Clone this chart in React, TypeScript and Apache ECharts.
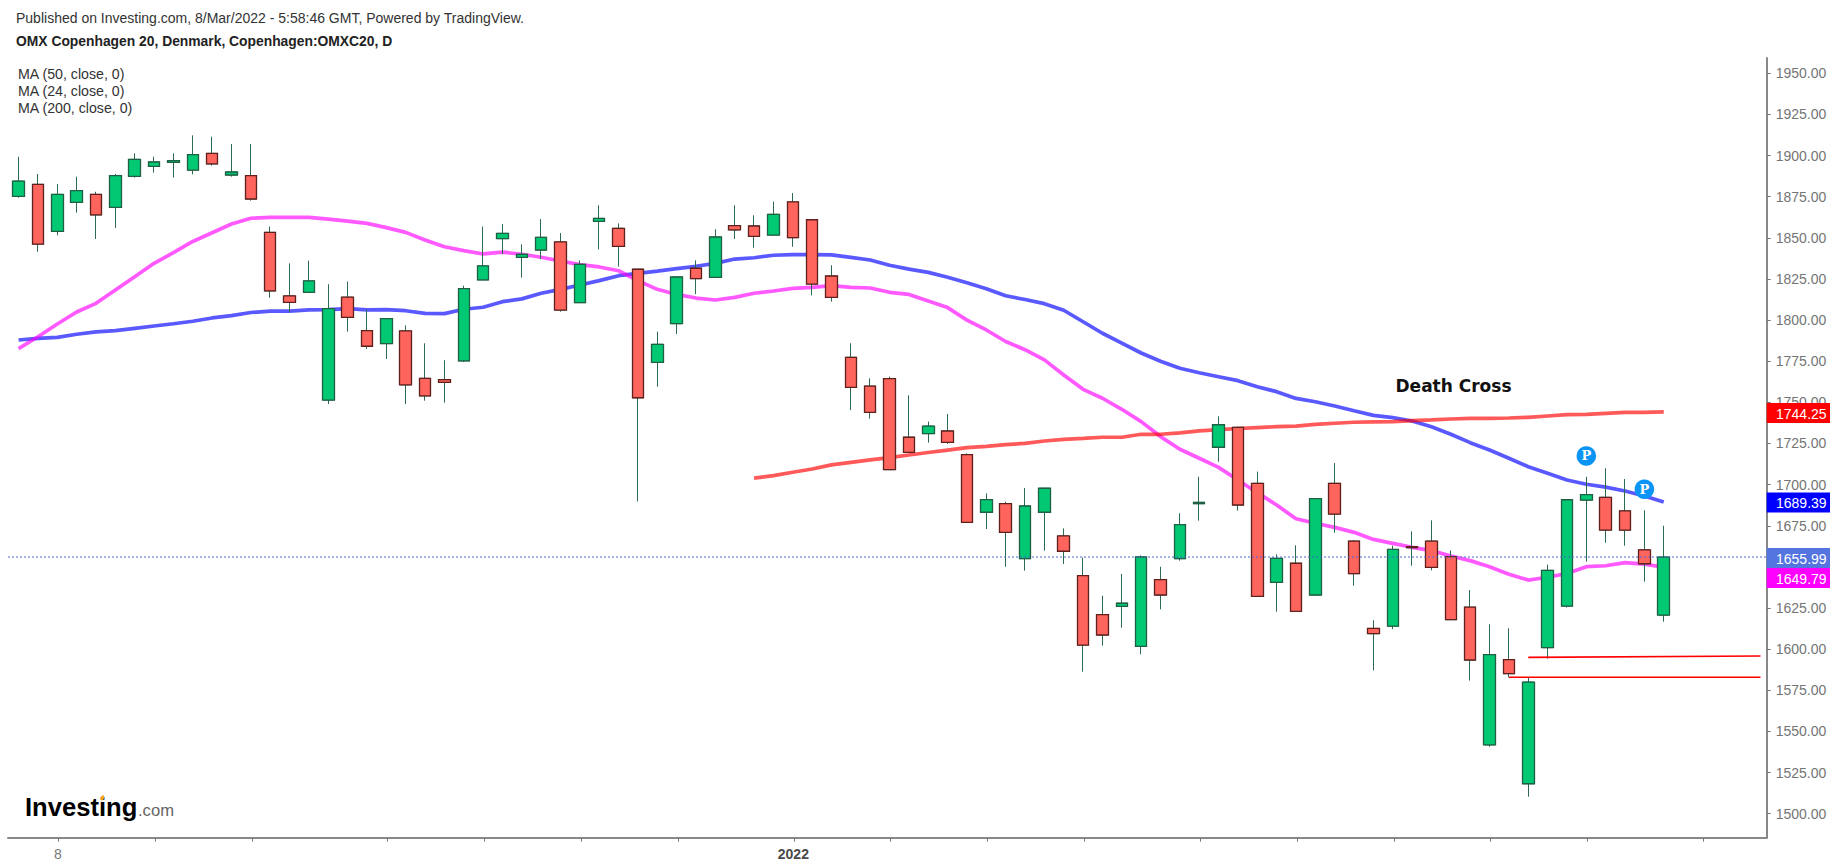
import React, { useEffect, useRef } from "react";
import * as echarts from "echarts";

const candleOpen = [
  1875.2, 1882.5, 1853.9, 1871.6, 1876.4, 1868.5, 1887.4, 1893.4, 1895.9, 1891.2,
  1901.3, 1888.2, 1887.8, 1853.3, 1814.7, 1816.9, 1751.4, 1813.9, 1793.6, 1785.7,
  1793.4, 1764.6, 1763.8, 1775.2, 1824.4, 1849.5, 1838.1, 1842.6, 1847.5, 1810.6,
  1860.0, 1855.8, 1830.9, 1774.3, 1797.8, 1831.5, 1826.0, 1857.4, 1857.2, 1851.7,
  1871.8, 1861.0, 1826.8, 1777.4, 1759.9, 1764.4, 1728.8, 1731.0, 1732.6, 1718.2,
  1683.2, 1688.4, 1655.0, 1683.2, 1668.8, 1644.7, 1621.0, 1626.0, 1601.7, 1642.2,
  1655.0, 1688.4, 1722.7, 1734.8, 1700.8, 1640.6, 1652.2, 1632.9, 1700.8, 1665.7,
  1612.6, 1614.0, 1662.3, 1665.7, 1656.2, 1625.5, 1541.8, 1593.6, 1518.2, 1600.9,
  1626.2, 1690.6, 1692.3, 1684.0, 1660.4, 1620.7,
];
const candleClose = [
  1884.5, 1846.2, 1876.4, 1878.7, 1863.9, 1887.8, 1897.7, 1896.1, 1896.9, 1900.6,
  1894.9, 1890.0, 1873.6, 1817.7, 1810.8, 1823.8, 1807.0, 1801.7, 1784.1, 1800.9,
  1760.6, 1753.9, 1762.2, 1819.1, 1832.9, 1852.7, 1840.0, 1850.3, 1806.1, 1833.9,
  1861.8, 1844.8, 1752.8, 1785.3, 1826.2, 1825.2, 1850.5, 1854.8, 1850.9, 1864.3,
  1850.1, 1821.9, 1813.8, 1759.1, 1743.9, 1709.1, 1719.6, 1735.6, 1725.7, 1677.1,
  1690.9, 1671.0, 1687.0, 1697.8, 1659.5, 1602.5, 1608.6, 1627.9, 1656.0, 1632.9,
  1675.7, 1689.2, 1736.4, 1687.6, 1632.1, 1655.2, 1623.0, 1691.5, 1682.1, 1645.9,
  1609.4, 1660.6, 1661.7, 1649.7, 1617.9, 1593.4, 1596.7, 1585.1, 1580.0, 1647.9,
  1690.8, 1693.9, 1672.4, 1672.4, 1651.9, 1655.99,
];
const candleLow = [
  1874.4, 1841.6, 1851.5, 1865.3, 1849.3, 1856.0, 1886.6, 1889.6, 1886.6, 1888.6,
  1893.9, 1887.2, 1872.6, 1813.6, 1804.7, 1816.9, 1749.0, 1793.0, 1782.4, 1776.4,
  1749.0, 1751.0, 1749.8, 1774.5, 1824.4, 1840.2, 1825.8, 1837.1, 1805.1, 1810.6,
  1843.0, 1832.5, 1689.8, 1759.5, 1791.5, 1815.8, 1826.0, 1849.3, 1844.0, 1851.7,
  1844.6, 1815.0, 1811.2, 1745.3, 1740.1, 1709.1, 1719.6, 1725.5, 1724.7, 1677.1,
  1673.0, 1650.1, 1647.7, 1659.9, 1651.8, 1586.3, 1602.1, 1613.1, 1596.9, 1624.2,
  1653.8, 1678.1, 1713.9, 1684.2, 1632.1, 1622.8, 1623.0, 1632.9, 1670.8, 1638.6,
  1587.1, 1612.2, 1650.7, 1647.9, 1617.9, 1580.9, 1540.7, 1582.9, 1510.3, 1594.2,
  1625.3, 1653.2, 1664.7, 1662.9, 1641.0, 1616.7,
];
const candleHigh = [
  1899.3, 1888.8, 1882.7, 1887.2, 1878.0, 1888.8, 1901.3, 1899.3, 1901.3, 1912.3,
  1911.5, 1907.0, 1907.0, 1856.8, 1834.5, 1836.1, 1821.8, 1823.4, 1806.2, 1800.9,
  1796.8, 1785.9, 1775.6, 1820.9, 1856.8, 1858.4, 1846.0, 1861.4, 1852.9, 1836.3,
  1869.8, 1858.8, 1831.0, 1793.0, 1826.2, 1836.3, 1855.2, 1869.8, 1863.7, 1872.0,
  1877.2, 1861.2, 1833.3, 1785.9, 1764.6, 1765.6, 1754.3, 1738.3, 1742.9, 1719.0,
  1694.7, 1689.6, 1698.0, 1697.8, 1673.4, 1655.6, 1632.5, 1645.7, 1657.0, 1650.1,
  1682.6, 1704.8, 1741.5, 1735.2, 1707.9, 1657.6, 1663.1, 1691.5, 1713.1, 1666.3,
  1617.5, 1662.9, 1671.6, 1678.3, 1660.0, 1635.9, 1615.1, 1612.7, 1582.9, 1651.4,
  1691.0, 1704.8, 1709.9, 1703.4, 1684.4, 1675.0,
];

const ma24 = [
  1782.7, 1789.9, 1797.6, 1804.9, 1810.2, 1818.3, 1826.4, 1834.5, 1841.0, 1847.8,
  1853.1, 1858.4, 1861.9, 1862.4, 1862.4, 1862.4, 1861.4, 1860.2, 1858.8, 1856.2,
  1853.3, 1848.7, 1844.6, 1842.2, 1840.2, 1841.3, 1840.0, 1838.2, 1835.9, 1833.7,
  1832.3, 1830.0, 1824.0, 1818.7, 1815.6, 1813.4, 1812.2, 1813.8, 1816.3, 1817.7,
  1819.3, 1819.9, 1820.9, 1819.9, 1819.5, 1816.9, 1815.6, 1811.6, 1807.6, 1800.0,
  1794.0, 1787.0, 1782.0, 1775.8, 1766.6, 1757.9, 1752.5, 1745.8, 1738.3, 1729.2,
  1721.5, 1716.0, 1710.5, 1702.8, 1695.1, 1687.6, 1679.3, 1676.5, 1674.0, 1671.0,
  1666.7, 1664.3, 1661.9, 1659.9, 1656.6, 1653.8, 1650.1, 1645.5, 1642.0, 1643.7,
  1646.0, 1650.1, 1650.7, 1652.6, 1651.7, 1649.79,
];
const ma50 = [
  1787.9, 1788.9, 1789.5, 1791.4, 1792.8, 1793.6, 1795.0, 1796.4, 1797.8, 1799.3,
  1801.3, 1802.7, 1804.6, 1805.5, 1805.5, 1806.2, 1806.4, 1807.0, 1806.2, 1806.4,
  1805.7, 1804.1, 1803.9, 1806.6, 1807.8, 1811.2, 1812.9, 1816.3, 1818.7, 1821.3,
  1824.0, 1827.0, 1828.4, 1829.8, 1831.3, 1832.7, 1834.5, 1837.1, 1837.9, 1839.4,
  1839.8, 1839.8, 1839.6, 1838.1, 1836.5, 1833.3, 1831.0, 1829.0, 1826.0, 1822.7,
  1819.1, 1814.8, 1812.5, 1810.0, 1806.0, 1799.0, 1792.0, 1786.0, 1780.0, 1775.0,
  1770.7, 1768.0, 1765.6, 1763.2, 1759.5, 1756.5, 1752.4, 1750.4, 1747.8, 1744.9,
  1742.1, 1740.7, 1738.7, 1735.2, 1730.6, 1725.5, 1721.0, 1716.0, 1710.9, 1706.9,
  1702.8, 1700.2, 1698.5, 1696.1, 1693.1, 1689.39,
];
const ma200Start = 38;
const ma200 = [
  1704.0, 1705.5, 1707.5, 1709.5, 1712.0, 1713.5, 1715.0, 1716.4, 1718.0, 1719.5,
  1721.0, 1722.5, 1723.3, 1724.3, 1725.1, 1726.5, 1727.5, 1728.1, 1728.8, 1728.8,
  1730.6, 1730.6, 1731.4, 1732.7, 1733.4, 1734.1, 1734.7, 1735.2, 1735.6, 1736.6,
  1737.3, 1737.9, 1738.1, 1738.3, 1738.9, 1739.3, 1739.9, 1740.3, 1740.3, 1740.5,
  1740.9, 1741.7, 1742.5, 1742.7, 1743.3, 1743.9, 1743.9, 1744.25,
];

const supportHigh = [[78, 1595.0], [90, 1595.8]];
const supportLow = [[77, 1582.9], [90, 1582.9]];
const lastPrice = 1655.99;
const pivots = [[81, 1717.4], [84, 1697.2]];

const xTicks = [2, 7, 12, 19, 24, 29, 34, 40, 45, 50, 55, 61, 66, 71, 76, 81, 87];
const xLabels: Record<number, string> = { 2: "8", 40: "2022" };
const yTicks = [
  1500, 1525, 1550, 1575, 1600, 1625, 1650, 1675, 1700, 1725, 1750, 1775, 1800, 1825,
  1850, 1875, 1900, 1925, 1950,
];
const yLabels = [
  1500, 1525, 1550, 1575, 1600, 1625, 1675, 1700, 1725, 1750, 1775, 1800, 1825,
  1850, 1875, 1900, 1925, 1950,
];
const priceTags = [
  { text: "1744.25", fill: "#ff0000", y: 413 },
  { text: "1689.39", fill: "#0000ff", y: 502.6 },
  { text: "1655.99", fill: "#5474e0", y: 558 },
  { text: "1649.79", fill: "#ff00ff", y: 578 },
];
const studyLabels = ["MA (50, close, 0)", "MA (24, close, 0)", "MA (200, close, 0)"];

const FONT = '"Liberation Sans", Arial, sans-serif';
const X_MIN = -0.5477;
const X_MAX = 90.32;

export default function App() {
  const ref = useRef<HTMLDivElement>(null);
  useEffect(() => {
    const chart = echarts.init(ref.current!, undefined, { renderer: "svg" });
    const text = (t: string, x: number, y: number, font: string, fill: string) => ({
      type: "text",
      z: 20,
      style: { text: t, x, y, font, fill, textVerticalAlign: "middle" },
    });
    const lineBase = (name: string, color: string, data: any[]) => ({
      name,
      type: "line",
      data,
      z: 2,
      showSymbol: false,
      smooth: false,
      silent: true,
      lineStyle: { color, width: 3.7, opacity: 0.65 },
    });
    chart.setOption({
      animation: false,
      backgroundColor: "#ffffff",
      grid: { left: 8, top: 58, width: 1758.7, height: 779.7 },
      xAxis: {
        type: "value",
        min: X_MIN,
        max: X_MAX,
        splitLine: { show: false },
        axisLine: { onZero: false, lineStyle: { color: "#888888", width: 2 } },
        axisTick: {
          show: true,
          length: 4,
          customValues: xTicks.map((v) => v + 0.06),
          lineStyle: { color: "#777777", width: 1 },
        },
        axisLabel: {
          show: true,
          customValues: Object.keys(xLabels).map((k) => Number(k) + 0.03),
          margin: 9,
          fontFamily: FONT,
          hideOverlap: false,
          formatter: (v: number) => {
            const s = xLabels[Math.floor(v)];
            return s === "2022" ? `{b|${s}}` : `{a|${s}}`;
          },
          rich: {
            a: { fontFamily: FONT, fontSize: 14, color: "#777777" },
            b: { fontFamily: FONT, fontSize: 14, fontWeight: "bold", color: "#4a4a4a" },
          },
        },
      },
      yAxis: {
        type: "value",
        position: "right",
        min: 1485.4,
        max: 1959.3,
        splitLine: { show: false },
        axisLine: { show: true, onZero: false, lineStyle: { color: "#888888", width: 2 } },
        axisTick: {
          show: true,
          length: 4,
          customValues: yTicks,
          lineStyle: { color: "#777777", width: 1 },
        },
        axisLabel: {
          customValues: yLabels,
          margin: 9,
          fontFamily: FONT,
          fontSize: 14,
          color: "#757575",
          formatter: (v: number) => v.toFixed(2),
        },
      },
      series: [
        lineBase("MA 50", "#0000ff", ma50.map((v, i) => [i, v])),
        lineBase("MA 24", "#ff00ff", ma24.map((v, i) => [i, v])),
        lineBase("MA 200", "#ff0000", ma200.map((v, i) => [i + ma200Start, v])),
        {
          name: "OMXC20 wicks",
          type: "candlestick",
          z: 3,
          silent: true,
          barWidth: 11,
          encode: { x: 0, y: [1, 2, 3, 4] },
          data: candleOpen.map((o, i) => [i, o, candleClose[i], candleLow[i], candleHigh[i]]),
          itemStyle: {
            color: "#00c873",
            color0: "#ff645d",
            borderColor: "#2b6b50",
            borderColor0: "#2b6b50",
            borderColorDoji: "#2b6b50",
            borderWidth: 1,
          },
        },
        {
          name: "OMXC20 bodies",
          type: "candlestick",
          z: 4,
          silent: true,
          barWidth: 12,
          encode: { x: 0, y: [1, 2, 3, 4] },
          data: candleOpen.map((o, i) => [
            i,
            o,
            candleClose[i],
            Math.min(o, candleClose[i]),
            Math.max(o, candleClose[i]),
          ]),
          itemStyle: {
            color: "#00c873",
            color0: "#ff645d",
            borderColor: "#1f5f43",
            borderColor0: "#5f1f1c",
            borderColorDoji: "#1f5f43",
            borderWidth: 1.3,
          },
        },
        {
          name: "Last price",
          type: "line",
          z: 5,
          silent: true,
          showSymbol: false,
          data: [[X_MIN, lastPrice], [X_MAX, lastPrice]],
          lineStyle: { color: "#4a66d8", width: 1, type: [2, 2] },
        },
        {
          name: "Support 1",
          type: "line",
          z: 5,
          silent: true,
          showSymbol: false,
          data: supportHigh,
          lineStyle: { color: "#ff0000", width: 1.6 },
        },
        {
          name: "Support 2",
          type: "line",
          z: 5,
          silent: true,
          showSymbol: false,
          data: supportLow,
          lineStyle: { color: "#ff0000", width: 1.6 },
        },
        {
          name: "Published",
          type: "scatter",
          z: 6,
          silent: true,
          symbol: "circle",
          symbolSize: 19.5,
          data: pivots,
          itemStyle: { color: "#0a94f5", opacity: 1 },
          label: {
            show: true,
            position: "inside",
            formatter: "P",
            color: "#ffffff",
            fontFamily: '"DejaVu Serif", serif',
            fontWeight: "bold",
            fontSize: 13,
          },
        },
      ],
      graphic: [
        text(
          "Published on Investing.com, 8/Mar/2022 - 5:58:46 GMT, Powered by TradingView.",
          16,
          17.7,
          `14px ${FONT}`,
          "#333333"
        ),
        text(
          "OMX Copenhagen 20, Denmark, Copenhagen:OMXC20, D",
          16,
          41,
          `bold 13.85px ${FONT}`,
          "#222222"
        ),
        ...studyLabels.map((s, i) => text(s, 18, 74 + i * 16.85, `14.2px ${FONT}`, "#333333")),
        text("Death Cross", 1395.5, 385.7, 'bold 17px "DejaVu Sans"', "#111111"),
        text("Investing", 25, 807, `bold 25.6px ${FONT}`, "#000000"),
        text(".com", 138, 810, `16.6px ${FONT}`, "#666666"),
        {
          type: "ellipse",
          z: 21,
          shape: { cx: 102, cy: 798, rx: 1.6, ry: 2.8 },
          rotation: -0.4,
          originX: 102,
          originY: 798,
          style: { fill: "#f7a21b" },
        },
        ...priceTags.flatMap((t) => [
          {
            type: "rect",
            z: 15,
            shape: { x: 1766.7, y: t.y - 10, width: 63.3, height: 20 },
            style: { fill: t.fill },
          },
          text(t.text, 1776, t.y + 0.5, `14px ${FONT}`, "#ffffff"),
        ]),
      ],
    });
    return () => chart.dispose();
  }, []);
  return (
    <div
      ref={ref}
      style={{ position: "fixed", left: 0, top: 0, width: 1837, height: 866, background: "#fff" }}
    />
  );
}
